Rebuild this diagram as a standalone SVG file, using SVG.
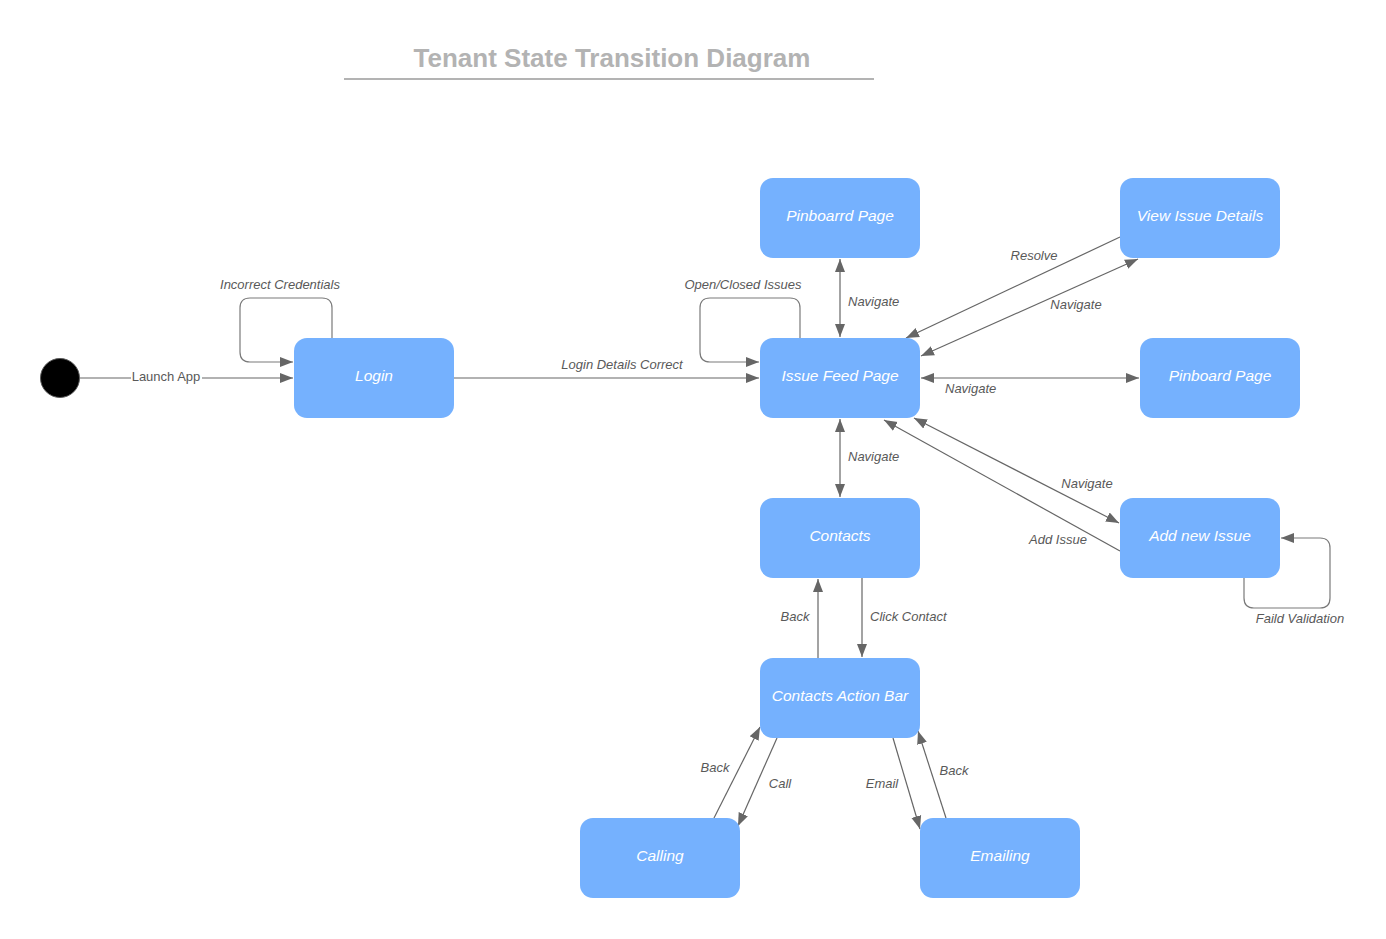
<svg xmlns="http://www.w3.org/2000/svg" width="1386" height="939" viewBox="0 0 1386 939">
<style>
.node rect{fill:#75b1fe;stroke:none}
.node text{font-family:"Liberation Sans",Arial,sans-serif;font-size:15.5px;font-style:italic;fill:#ffffff;text-anchor:middle}
.edge{fill:none;stroke:#666666;stroke-width:1.2}
.loop{fill:none;stroke:#7a7a7a;stroke-width:1.2}
.lbl{font-family:"Liberation Sans",Arial,sans-serif;font-size:13px;font-style:italic;fill:#595959}
.title{font-family:"Liberation Sans",Arial,sans-serif;font-size:26px;font-weight:bold;fill:#b3b3b3;text-anchor:middle}
</style>
<defs>
<marker id="arr" markerUnits="userSpaceOnUse" markerWidth="14" markerHeight="12" refX="13" refY="5" orient="auto-start-reverse" viewBox="0 0 14 10">
<path d="M0,0 L13,5 L0,10 z" fill="#666666"/>
</marker>
</defs>
<rect width="1386" height="939" fill="#ffffff"/>
<g id="title">
<text class="title" x="612" y="67">Tenant State Transition Diagram</text>
<line x1="344" y1="79" x2="874" y2="79" stroke="#b3b3b3" stroke-width="2"/>
</g>
<g id="connectors">
<line class="edge" x1="80" y1="378" x2="293" y2="378" marker-end="url(#arr)"/>
<rect x="131" y="369" width="71" height="16" fill="#ffffff"/>
<text x="166" y="381" font-family="Liberation Sans,Arial,sans-serif" font-size="13" fill="#595959" text-anchor="middle">Launch App</text>
<path class="loop" d="M332,338 V308 Q332,298 322,298 H250 Q240,298 240,308 V352 Q240,362 250,362 H293" marker-end="url(#arr)"/>
<text class="lbl" x="280" y="289" text-anchor="middle">Incorrect Credentials</text>
<line class="edge" x1="454" y1="378" x2="759" y2="378" marker-end="url(#arr)"/>
<text class="lbl" x="622" y="369" text-anchor="middle">Login Details Correct</text>
<path class="loop" d="M800,338 V308 Q800,298 790,298 H710 Q700,298 700,308 V352 Q700,362 710,362 H759" marker-end="url(#arr)"/>
<text class="lbl" x="743" y="289" text-anchor="middle">Open/Closed Issues</text>
<line class="edge" x1="840" y1="259" x2="840" y2="337" marker-start="url(#arr)" marker-end="url(#arr)"/>
<text class="lbl" x="848" y="306">Navigate</text>
<line class="edge" x1="1120" y1="237" x2="906" y2="338" marker-end="url(#arr)"/>
<text class="lbl" x="1034" y="260" text-anchor="middle">Resolve</text>
<line class="edge" x1="921" y1="356" x2="1138" y2="259" marker-start="url(#arr)" marker-end="url(#arr)"/>
<text class="lbl" x="1076" y="309" text-anchor="middle">Navigate</text>
<line class="edge" x1="921" y1="378" x2="1139" y2="378" marker-start="url(#arr)" marker-end="url(#arr)"/>
<text class="lbl" x="945" y="393">Navigate</text>
<line class="edge" x1="840" y1="419" x2="840" y2="497" marker-start="url(#arr)" marker-end="url(#arr)"/>
<text class="lbl" x="848" y="461" fill="#444444">Navigate</text>
<line class="edge" x1="914" y1="418" x2="1119" y2="523" marker-start="url(#arr)" marker-end="url(#arr)"/>
<text class="lbl" x="1087" y="488" text-anchor="middle">Navigate</text>
<line class="edge" x1="1120" y1="551" x2="884" y2="420" marker-end="url(#arr)"/>
<text class="lbl" x="1058" y="544" text-anchor="middle">Add Issue</text>
<path class="loop" d="M1244,578 V598 Q1244,608 1254,608 H1320 Q1330,608 1330,598 V548 Q1330,538 1320,538 H1281" marker-end="url(#arr)"/>
<text class="lbl" x="1300" y="623" text-anchor="middle">Faild Validation</text>
<line class="edge" x1="818" y1="658" x2="818" y2="579" marker-end="url(#arr)"/>
<text class="lbl" x="795" y="621" text-anchor="middle">Back</text>
<line class="edge" x1="862" y1="578" x2="862" y2="657" marker-end="url(#arr)"/>
<text class="lbl" x="870" y="621">Click Contact</text>
<line class="edge" x1="714" y1="818" x2="760" y2="727" marker-end="url(#arr)"/>
<text class="lbl" x="715" y="772" text-anchor="middle">Back</text>
<line class="edge" x1="777" y1="738" x2="738" y2="826" marker-end="url(#arr)"/>
<text class="lbl" x="780" y="788" text-anchor="middle">Call</text>
<line class="edge" x1="893" y1="738" x2="920" y2="829" marker-end="url(#arr)"/>
<text class="lbl" x="882" y="788" text-anchor="middle">Email</text>
<line class="edge" x1="946" y1="818" x2="918" y2="731" marker-end="url(#arr)"/>
<text class="lbl" x="954" y="775" text-anchor="middle">Back</text>
</g>
<g id="start"><circle cx="60" cy="378" r="19.5" fill="#000000" stroke="#5a5a5a" stroke-width="1"/></g>
<g id="login" class="node"><rect x="294" y="338" width="160" height="80" rx="13"/><text x="374" y="381">Login</text></g>
<g id="issue-feed" class="node"><rect x="760" y="338" width="160" height="80" rx="13"/><text x="840" y="381">Issue Feed Page</text></g>
<g id="pinboarrd" class="node"><rect x="760" y="178" width="160" height="80" rx="13"/><text x="840" y="221">Pinboarrd Page</text></g>
<g id="view-issue" class="node"><rect x="1120" y="178" width="160" height="80" rx="13"/><text x="1200" y="221">View Issue Details</text></g>
<g id="pinboard" class="node"><rect x="1140" y="338" width="160" height="80" rx="13"/><text x="1220" y="381">Pinboard Page</text></g>
<g id="contacts" class="node"><rect x="760" y="498" width="160" height="80" rx="13"/><text x="840" y="541">Contacts</text></g>
<g id="add-issue" class="node"><rect x="1120" y="498" width="160" height="80" rx="13"/><text x="1200" y="541">Add new Issue</text></g>
<g id="action-bar" class="node"><rect x="760" y="658" width="160" height="80" rx="13"/><text x="840" y="701">Contacts Action Bar</text></g>
<g id="calling" class="node"><rect x="580" y="818" width="160" height="80" rx="13"/><text x="660" y="861">Calling</text></g>
<g id="emailing" class="node"><rect x="920" y="818" width="160" height="80" rx="13"/><text x="1000" y="861">Emailing</text></g>
</svg>
